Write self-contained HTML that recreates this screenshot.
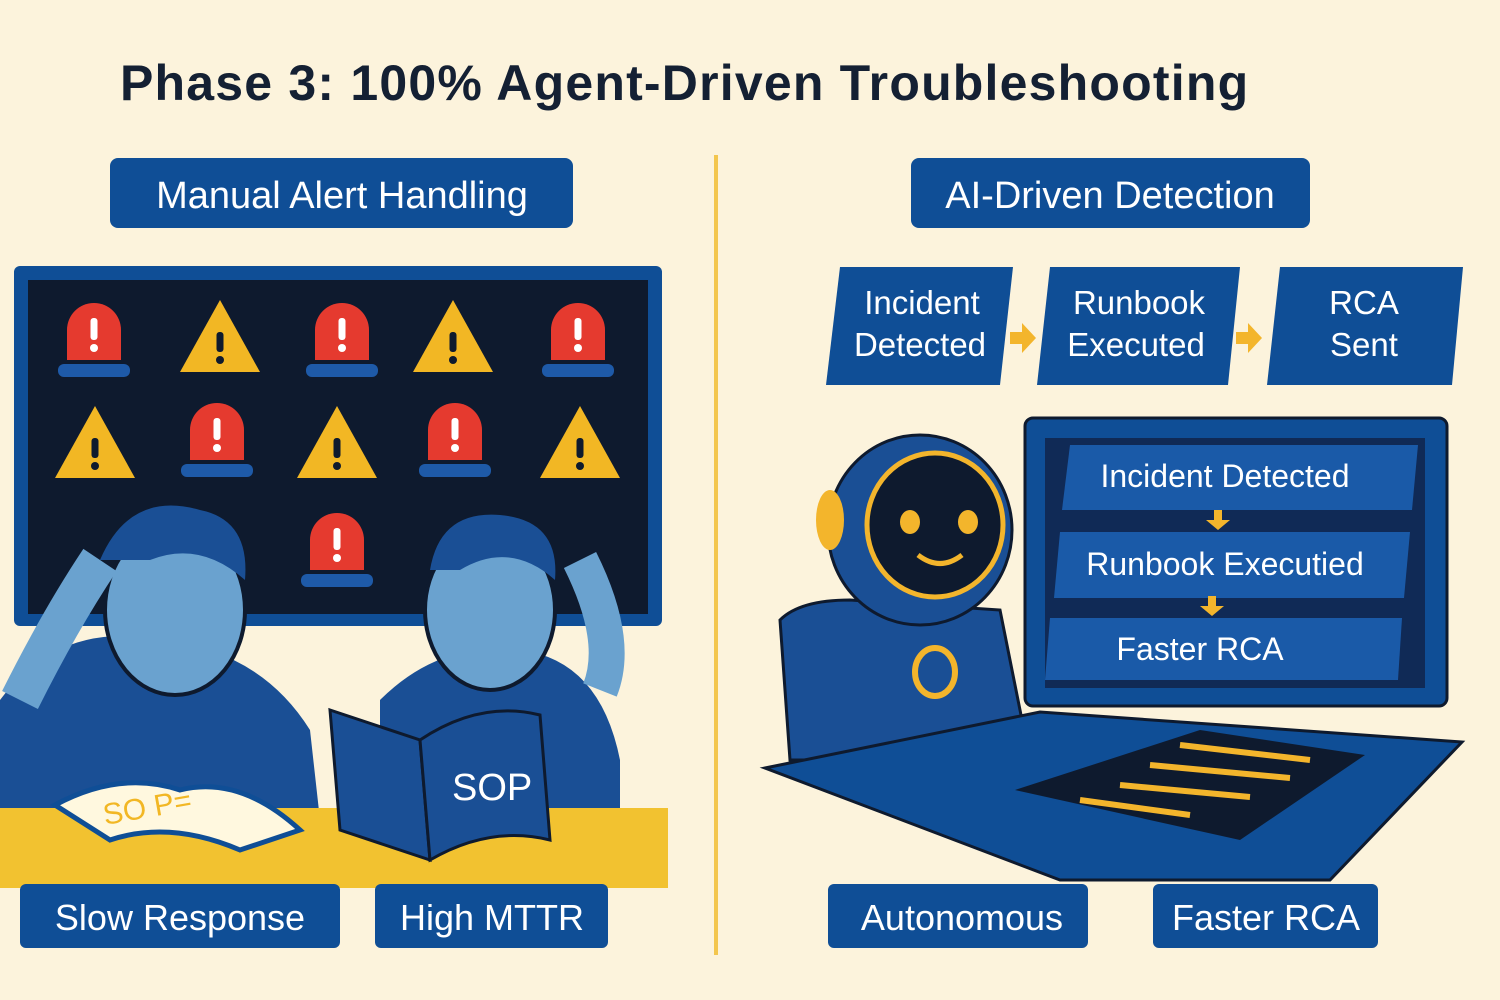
<!DOCTYPE html>
<html><head><meta charset="utf-8"><style>
body{margin:0;background:#fcf3dc;}
svg{display:block}
text{font-family:"Liberation Sans",sans-serif;}
</style></head><body>
<svg width="1500" height="1000" viewBox="0 0 1500 1000" xmlns="http://www.w3.org/2000/svg">
<defs>
<g id="ex"><rect x="-3.5" y="-22" width="7" height="22" rx="3" fill="#fff"/><circle cx="0" cy="8" r="4" fill="#fff"/></g>
<g id="exd"><rect x="-3.5" y="-20" width="7" height="20" rx="3" fill="#0e1a2e"/><circle cx="0" cy="8" r="4" fill="#0e1a2e"/></g>
</defs>
<rect width="1500" height="1000" fill="#fcf3dc"/>
<text x="120" y="100" font-size="50" font-weight="bold" fill="#142033" letter-spacing="1.2">Phase 3: 100% Agent-Driven Troubleshooting</text>
<line x1="716" y1="155" x2="716" y2="955" stroke="#f3c64e" stroke-width="4"/>

<!-- left -->
<rect x="110" y="158" width="463" height="70" rx="8" fill="#0f4e96"/>
<text x="342" y="208" font-size="38" fill="#fff" text-anchor="middle">Manual Alert Handling</text>
<rect x="14" y="266" width="648" height="360" rx="6" fill="#0f4e96"/>
<rect x="28" y="280" width="620" height="334" fill="#0e1a2e"/>
<g fill="#e53a2f"><path d="M67 360 v-30 a27 27 0 0 1 54 0 v30z"/><path d="M315 360 v-30 a27 27 0 0 1 54 0 v30z"/><path d="M551 360 v-30 a27 27 0 0 1 54 0 v30z"/><path d="M190 460 v-30 a27 27 0 0 1 54 0 v30z"/><path d="M428 460 v-30 a27 27 0 0 1 54 0 v30z"/><path d="M310 570 v-30 a27 27 0 0 1 54 0 v30z"/></g>
<use href="#ex" x="94" y="340"/><use href="#ex" x="342" y="340"/><use href="#ex" x="578" y="340"/><use href="#ex" x="217" y="440"/><use href="#ex" x="455" y="440"/><use href="#ex" x="337" y="550"/>
<g fill="#1e5aa8"><rect x="58" y="364" width="72" height="13" rx="6"/><rect x="306" y="364" width="72" height="13" rx="6"/><rect x="542" y="364" width="72" height="13" rx="6"/><rect x="181" y="464" width="72" height="13" rx="6"/><rect x="419" y="464" width="72" height="13" rx="6"/><rect x="301" y="574" width="72" height="13" rx="6"/></g>
<g fill="#f2b724"><path d="M220 300 l40 72 h-80z"/><path d="M453 300 l40 72 h-80z"/><path d="M95 406 l40 72 h-80z"/><path d="M337 406 l40 72 h-80z"/><path d="M580 406 l40 72 h-80z"/></g>
<use href="#exd" x="220" y="352"/><use href="#exd" x="453" y="352"/><use href="#exd" x="95" y="458"/><use href="#exd" x="337" y="458"/><use href="#exd" x="580" y="458"/>
<!-- people -->
<path d="M0 700 Q60 620 160 640 Q260 650 310 730 L320 820 L0 820z" fill="#1a4f95"/>
<ellipse cx="175" cy="610" rx="70" ry="85" fill="#6aa2cf" stroke="#0e1a2e" stroke-width="4"/>
<path d="M100 560 Q130 490 200 510 Q250 520 245 580 Q200 540 150 560z" fill="#1a4f95"/>
<path d="M380 700 Q440 640 520 650 Q600 660 620 760 L620 820 L380 820z" fill="#1a4f95"/>
<ellipse cx="490" cy="610" rx="65" ry="80" fill="#6aa2cf" stroke="#0e1a2e" stroke-width="4"/>
<path d="M430 570 Q440 510 500 515 Q560 520 555 580 Q510 540 460 570z" fill="#1a4f95"/>
<path d="M20 700 Q60 620 100 560" stroke="#6aa2cf" stroke-width="40" fill="none"/>
<path d="M600 690 Q620 640 580 560" stroke="#6aa2cf" stroke-width="36" fill="none"/>
<rect x="0" y="808" width="668" height="80" fill="#f2c230"/>
<path d="M55 805 Q120 770 180 790 Q240 775 300 830 L240 850 Q170 820 110 840z" fill="#fff8df" stroke="#0f4e96" stroke-width="5"/>
<text x="105" y="825" font-size="30" fill="#f2b724" transform="rotate(-10 105 825)">SO P=</text>
<path d="M330 710 L420 740 L430 860 L340 830z" fill="#1a4f95" stroke="#0e1a2e" stroke-width="3"/>
<path d="M420 740 Q480 700 540 715 L550 840 Q490 825 430 860z" fill="#1a4f95" stroke="#0e1a2e" stroke-width="3"/>
<text x="452" y="800" font-size="38" fill="#fff">SOP</text>
<rect x="20" y="884" width="320" height="64" rx="6" fill="#0f4e96"/>
<text x="180" y="930" font-size="36" fill="#fff" text-anchor="middle">Slow Response</text>
<rect x="375" y="884" width="233" height="64" rx="6" fill="#0f4e96"/>
<text x="492" y="930" font-size="36" fill="#fff" text-anchor="middle">High MTTR</text>

<!-- right -->
<rect x="911" y="158" width="399" height="70" rx="8" fill="#0f4e96"/>
<text x="1110" y="208" font-size="38" fill="#fff" text-anchor="middle">AI-Driven Detection</text>
<g fill="#0f4e96">
<path d="M840 267 H1013 L1000 385 H826z"/>
<path d="M1050 267 H1240 L1228 385 H1037z"/>
<path d="M1280 267 H1463 L1452 385 H1267z"/>
</g>
<g fill="#fff" font-size="33" text-anchor="middle">
<text x="922" y="314">Incident</text><text x="920" y="356">Detected</text>
<text x="1139" y="314">Runbook</text><text x="1136" y="356">Executed</text>
<text x="1364" y="314">RCA</text><text x="1364" y="356">Sent</text>
</g>
<g fill="#f3b52c"><path d="M1010 332 h12 v-9 l14 15 -14 15 v-9 h-12z"/><path d="M1236 332 h12 v-9 l14 15 -14 15 v-9 h-12z"/></g>

<rect x="1025" y="418" width="422" height="288" rx="8" fill="#0f4e96" stroke="#0e1a2e" stroke-width="3"/>
<rect x="1045" y="438" width="380" height="250" fill="#102a56"/>
<path d="M1070 445 H1418 L1412 510 H1062z" fill="#1a5aa8"/>
<path d="M1060 532 H1410 L1404 598 H1054z" fill="#1a5aa8"/>
<path d="M1050 618 H1402 L1398 680 H1045z" fill="#1a5aa8"/>
<g fill="#fff" font-size="32" text-anchor="middle">
<text x="1225" y="487">Incident Detected</text>
<text x="1225" y="575">Runbook Executied</text>
<text x="1200" y="660">Faster RCA</text>
</g>
<g fill="#f3b52c"><path d="M1214 510 h8 v10 h8 l-12 10 -12 -10 h8z"/><path d="M1208 596 h8 v10 h8 l-12 10 -12 -10 h8z"/></g>

<path d="M780 620 Q800 600 850 600 L1000 610 L1030 760 L790 760z" fill="#1a4f95" stroke="#0e1a2e" stroke-width="3"/>
<ellipse cx="920" cy="530" rx="92" ry="95" fill="#1a4f95" stroke="#0e1a2e" stroke-width="3"/>
<ellipse cx="830" cy="520" rx="14" ry="30" fill="#f3b52c"/>
<ellipse cx="935" cy="525" rx="68" ry="72" fill="#0e1a2e" stroke="#f3b52c" stroke-width="5"/>
<ellipse cx="910" cy="522" rx="10" ry="12" fill="#f3b52c"/><ellipse cx="968" cy="522" rx="10" ry="12" fill="#f3b52c"/>
<path d="M918 555 Q940 572 962 555" stroke="#f3b52c" stroke-width="5" fill="none"/>
<ellipse cx="935" cy="672" rx="20" ry="24" fill="none" stroke="#f3b52c" stroke-width="6"/>
<path d="M765 768 L1040 712 L1462 742 L1330 880 L1060 880z" fill="#0f4e96" stroke="#0e1a2e" stroke-width="3"/>
<path d="M1015 790 L1200 730 L1365 755 L1240 840z" fill="#0e1a2e"/>
<g stroke="#f3b52c" stroke-width="6"><line x1="1180" y1="745" x2="1310" y2="760"/><line x1="1150" y1="765" x2="1290" y2="778"/><line x1="1120" y1="785" x2="1250" y2="797"/><line x1="1080" y1="800" x2="1190" y2="815"/></g>
<rect x="828" y="884" width="260" height="64" rx="6" fill="#0f4e96"/>
<text x="962" y="930" font-size="36" fill="#fff" text-anchor="middle">Autonomous</text>
<rect x="1153" y="884" width="225" height="64" rx="6" fill="#0f4e96"/>
<text x="1266" y="930" font-size="36" fill="#fff" text-anchor="middle">Faster RCA</text>
</svg>
</body></html>
